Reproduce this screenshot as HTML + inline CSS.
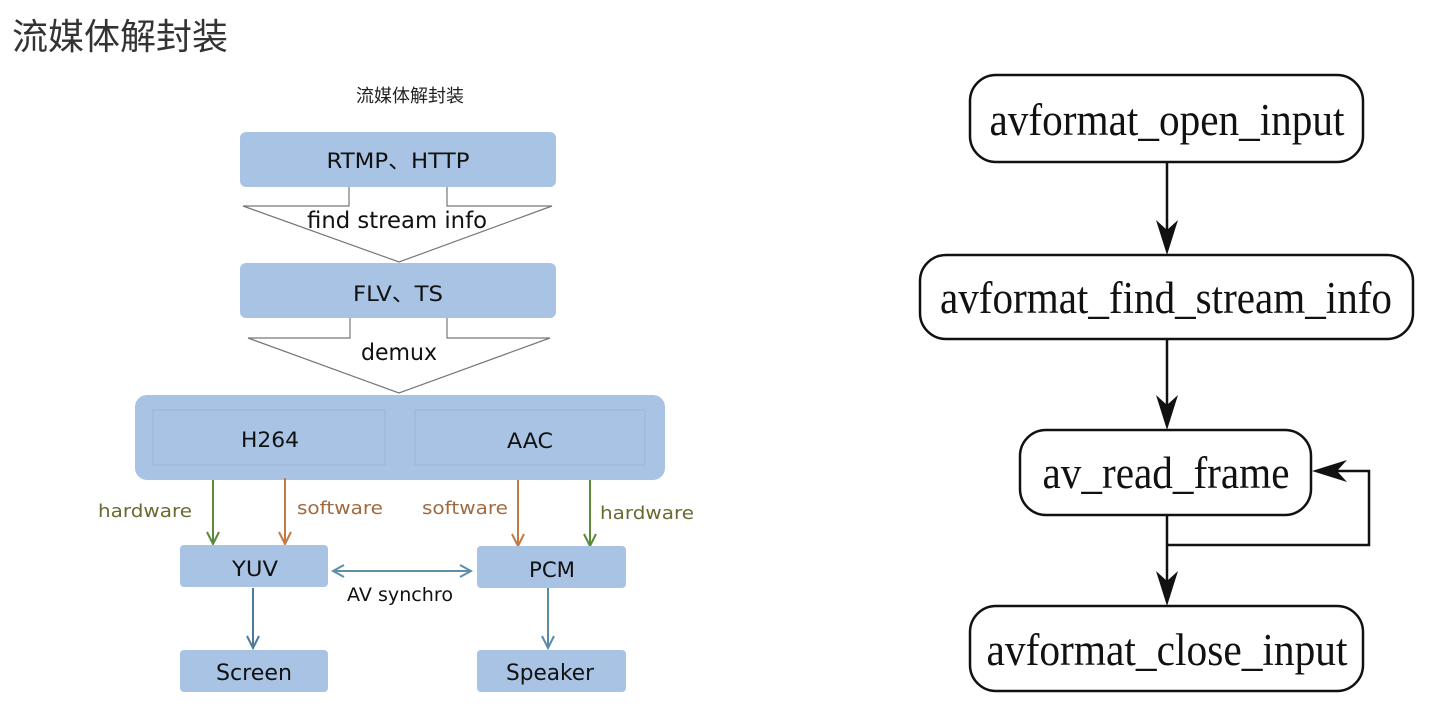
<!DOCTYPE html>
<html><head><meta charset="utf-8"><style>
body{margin:0;background:#fff;width:1436px;height:716px;overflow:hidden;position:relative;}
.t{position:absolute;left:12px;top:8px;font:36px "Liberation Sans","Noto Sans CJK SC",sans-serif;color:#333;}
svg{position:absolute;left:0;top:0;}
</style></head><body>
<div class="t">流媒体解封装</div>
<svg width="1436" height="716" viewBox="0 0 1436 716">
<g font-family="'DejaVu Sans','Liberation Sans','Noto Sans CJK SC',sans-serif" text-anchor="middle" lengthAdjust="spacingAndGlyphs">
<text x="410" y="102" font-size="18" fill="#222" font-family="'Noto Sans CJK SC',sans-serif">流媒体解封装</text>
<rect x="240" y="132" width="316" height="55" rx="6" fill="#a9c3e4"/>
<text x="398" y="168" font-size="21" fill="#111" textLength="143" lengthAdjust="spacingAndGlyphs">RTMP、HTTP</text>
<polyline points="349,187 349,206 243,206 399,262 552,206 447,206 447,187" fill="none" stroke="#777" stroke-width="1.2"/>
<text x="397" y="228" font-size="23" fill="#111" textLength="180" lengthAdjust="spacingAndGlyphs">find stream info</text>
<rect x="240" y="263" width="316" height="55" rx="6" fill="#a9c3e4"/>
<text x="398" y="301" font-size="21" fill="#111" textLength="90" lengthAdjust="spacingAndGlyphs">FLV、TS</text>
<polyline points="350,318 350,338 248,338 399,393 550,338 447,338 447,318" fill="none" stroke="#777" stroke-width="1.2"/>
<text x="399" y="360" font-size="23" fill="#111" textLength="76" lengthAdjust="spacingAndGlyphs">demux</text>
<rect x="135" y="395" width="530" height="85" rx="12" fill="#a9c3e4"/>
<rect x="153" y="410" width="232" height="55" fill="none" stroke="#9cb4d4" stroke-width="1"/>
<rect x="415" y="410" width="230" height="55" fill="none" stroke="#9cb4d4" stroke-width="1"/>
<text x="270" y="447" font-size="21" fill="#111" textLength="58" lengthAdjust="spacingAndGlyphs">H264</text>
<text x="530" y="448" font-size="21" fill="#111" textLength="46" lengthAdjust="spacingAndGlyphs">AAC</text>
<g stroke-width="2" fill="none">
<path d="M213,480V543M207,532L213,544L219,532" stroke="#5a8a3a"/>
<path d="M285,478V543M279,532L285,544L291,532" stroke="#c27a45"/>
<path d="M518,480V545M512,534L518,546L524,534" stroke="#c27a45"/>
<path d="M590,480V545M584,534L590,546L596,534" stroke="#5a8a3a"/>
<path d="M253,588V647M247,636L253,648L259,636" stroke="#4e7a99"/>
<path d="M548,588V647M542,636L548,648L554,636" stroke="#5a8aa6"/>
<path d="M334,571H470M344,565L333,571L344,577M460,565L471,571L460,577" stroke="#5f8fa8"/>
</g>
<text x="145" y="517" font-size="18" fill="#6a6a30" textLength="94" lengthAdjust="spacingAndGlyphs">hardware</text>
<text x="340" y="514" font-size="18" fill="#a06a40" textLength="86" lengthAdjust="spacingAndGlyphs">software</text>
<text x="465" y="514" font-size="18" fill="#a06a40" textLength="86" lengthAdjust="spacingAndGlyphs">software</text>
<text x="647" y="519" font-size="18" fill="#6a6a30" textLength="94" lengthAdjust="spacingAndGlyphs">hardware</text>
<rect x="180" y="545" width="148" height="42" rx="4" fill="#a9c3e4"/>
<text x="255" y="576" font-size="21" fill="#111" textLength="46" lengthAdjust="spacingAndGlyphs">YUV</text>
<rect x="477" y="546" width="149" height="42" rx="4" fill="#a9c3e4"/>
<text x="552" y="577" font-size="21" fill="#111" textLength="46" lengthAdjust="spacingAndGlyphs">PCM</text>
<text x="400" y="601" font-size="19" fill="#111" textLength="106" lengthAdjust="spacingAndGlyphs">AV synchro</text>
<rect x="180" y="650" width="148" height="42" rx="4" fill="#a9c3e4"/>
<text x="254" y="680" font-size="22" fill="#111" textLength="76" lengthAdjust="spacingAndGlyphs">Screen</text>
<rect x="477" y="650" width="149" height="42" rx="4" fill="#a9c3e4"/>
<text x="550" y="680" font-size="22" fill="#111" textLength="88" lengthAdjust="spacingAndGlyphs">Speaker</text>
</g>
<g font-family="'Liberation Serif',serif" font-size="45" text-anchor="middle" fill="#111">
<g fill="#fff" stroke="#111" stroke-width="2.5">
<rect x="970" y="75" width="393" height="87" rx="26"/>
<rect x="920" y="255" width="493" height="84" rx="26"/>
<rect x="1020" y="430" width="291" height="85" rx="26"/>
<rect x="970" y="606" width="393" height="85" rx="26"/>
</g>
<text x="1167" y="135" textLength="355" lengthAdjust="spacingAndGlyphs">avformat_open_input</text>
<text x="1166" y="313" textLength="452" lengthAdjust="spacingAndGlyphs">avformat_find_stream_info</text>
<text x="1166" y="488" textLength="247" lengthAdjust="spacingAndGlyphs">av_read_frame</text>
<text x="1167" y="665" textLength="361" lengthAdjust="spacingAndGlyphs">avformat_close_input</text>
<g stroke="#111" stroke-width="2.5" fill="none">
<path d="M1167,162V240M1167,339V415M1167,515V590M1167,545H1369V471H1325"/>
</g>
<g fill="#111">
<path d="M1156,220L1167,255L1178,220L1167,230Z"/>
<path d="M1156,395L1167,430L1178,395L1167,405Z"/>
<path d="M1156,571L1167,606L1178,571L1167,581Z"/>
<path d="M1347,460L1312,471L1347,482L1337,471Z"/>
</g>
</g>
</svg>
</body></html>
